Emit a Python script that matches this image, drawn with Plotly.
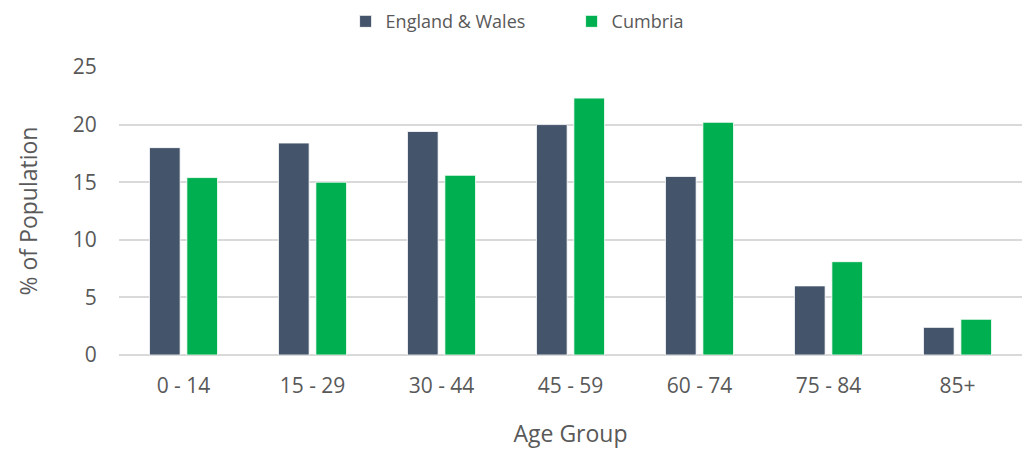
import plotly.graph_objects as go

categories = ["0 - 14", "15 - 29", "30 - 44", "45 - 59", "60 - 74", "75 - 84", "85+"]
england_wales = [18.0, 18.4, 19.4, 20.0, 15.5, 6.0, 2.4]
cumbria = [15.4, 15.0, 15.6, 22.3, 20.2, 8.1, 3.1]
y_ticks = [0, 5, 10, 15, 20, 25]

FONT = "Open Sans"
TXT = "#595959"
GRID = "#D9D9D9"

fig = go.Figure()
fig.add_trace(go.Bar(name="England & Wales", x=categories, y=england_wales,
                     marker=dict(color="#44546A", line=dict(color="#FFFFFF", width=0.8))))
fig.add_trace(go.Bar(name="Cumbria", x=categories, y=cumbria,
                     marker=dict(color="#00B050", line=dict(color="#FFFFFF", width=0.8))))

fig.update_layout(
    width=1023, height=441,
    margin=dict(l=111, r=9, t=59, b=94, autoexpand=False),
    paper_bgcolor="white", plot_bgcolor="white",
    barmode="group", bargap=0.42, bargroupgap=0.18,
    font=dict(family=FONT, color=TXT, size=21),
    showlegend=True,
    legend=dict(orientation="h", xref="container", yref="container",
                x=0.330, y=0.969, xanchor="left", yanchor="middle",
                font=dict(family=FONT, size=18, color=TXT),
                itemwidth=30, entrywidth=181, entrywidthmode="pixels",
                traceorder="normal"),
    xaxis=dict(showgrid=False, showline=False, zeroline=False, automargin=False,
               tickfont=dict(size=21, color=TXT),
               ticks="outside", ticklen=12, tickcolor="rgba(0,0,0,0)",
               title=dict(text="Age Group", font=dict(size=23, color=TXT), standoff=37)),
    yaxis=dict(range=[0, 25], tickvals=y_ticks, showgrid=True, gridcolor=GRID, gridwidth=1.5,
               zeroline=True, zerolinecolor=GRID, zerolinewidth=1.5, showline=False,
               automargin=False,
               tickfont=dict(size=21, color=TXT),
               ticks="outside", ticklen=17, tickcolor="rgba(0,0,0,0)",
               title=dict(text="% of Population", font=dict(size=23, color=TXT), standoff=28)),
)

fig.write_html("out.html")
